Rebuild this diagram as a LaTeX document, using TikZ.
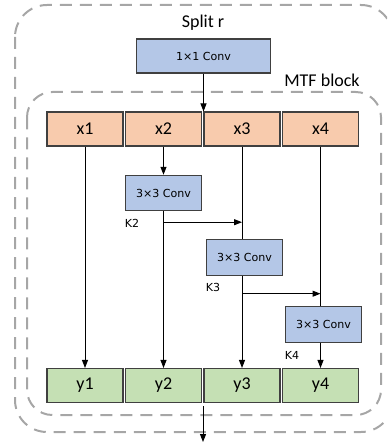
\documentclass[tikz,border=0pt]{standalone}
\usepackage{fontspec}
\setmainfont{Carlito}
\newfontfamily\convfont{DejaVu Sans}
\usetikzlibrary{arrows.meta,calc}

\definecolor{convblue}{HTML}{B4C7E7}
\definecolor{splitorange}{HTML}{F8CBAD}
\definecolor{outgreen}{HTML}{C5E0B4}
\definecolor{dashgray}{HTML}{A6A6A6}

\tikzset{
    cell/.style={draw=black!75, line width=0.8pt, minimum width=57pt, minimum height=25.5pt, inner sep=0pt, font=\fontsize{13.5}{15}\selectfont},
    convbox/.style={draw=black!75, line width=0.8pt, fill=convblue, minimum width=57.5pt, minimum height=26.5pt, inner sep=0pt, font=\convfont\fontsize{8.3}{10}\selectfont},
    klabel/.style={anchor=west, inner sep=0pt, font=\convfont\fontsize{8.3}{10}\selectfont},
    region/.style={draw=dashgray, line width=1.5pt, dash pattern=on 9pt off 6pt},
    arr/.style={-{Triangle[length=6pt,width=4.5pt]}, line width=0.75pt},
}

\begin{document}
\begin{tikzpicture}[x=0.75pt, y=-0.75pt]
    \useasboundingbox (0,0) rectangle (387,445);
    \clip (0,0) rectangle (387,445);

    % dashed regions
    \draw[region, rounded corners=24pt] (15,5) rectangle (393,432);
    \draw[region, rounded corners=19pt] (27,92) rectangle (381,415);
    \node[font=\fontsize{13.5}{15}\selectfont] (splitlab) at (203,23) {Split r};
    \node[font=\fontsize{13.5}{15}\selectfont] (mtflab) at (322,80) {MTF block};

    \node[convbox, minimum width=101pt, minimum height=25.5pt] (conv1) at (203.5,56) {1×1 Conv};

    % split parts
    \node[cell, fill=splitorange] (x1) at (85,129) {x1};
    \node[cell, fill=splitorange] (x2) at (163.5,129) {x2};
    \node[cell, fill=splitorange] (x3) at (242,129) {x3};
    \node[cell, fill=splitorange] (x4) at (320.5,129) {x4};

    \node[convbox] (conv2) at (163.5,193) {3×3 Conv};
    \node[convbox] (conv3) at (244.5,257.5) {3×3 Conv};
    \node[convbox] (conv4) at (323.5,324.5) {3×3 Conv};

    \node[klabel] (k2lab) at ($(conv2.south west)+(0,12)$) {K2};
    \node[klabel] (k3lab) at ($(conv3.south west)+(0,12)$) {K3};
    \node[klabel] (k4lab) at ($(conv4.south west)+(0,13)$) {K4};

    \node[cell, fill=outgreen] (y1) at (85,385.5) {y1};
    \node[cell, fill=outgreen] (y2) at (163.5,385.5) {y2};
    \node[cell, fill=outgreen] (y3) at (242,385.5) {y3};
    \node[cell, fill=outgreen] (y4) at (320.5,385.5) {y4};

    % connectors
    \draw[arr] (conv1.south) -- (conv1.south |- x2.north);
    \draw[arr] (x1.south) -- (y1.north);
    \draw[arr] (x2.south) -- (conv2.north);
    \draw[arr] (conv2.south) -- (conv2.south |- y2.north);
    \draw[line width=0.75pt] (x3.south) -- (x3.south |- conv3.north);
    \draw[arr] (x3.south |- conv3.south) -- (y3.north);
    \draw[line width=0.75pt] (x4.south) -- (x4.south |- conv4.north);
    \draw[arr] (x4.south |- conv4.south) -- (y4.north);
    \coordinate (k2) at ($(conv2.south)+(0,11)$);
    \coordinate (k3) at ($(x3.south |- conv3.south)+(0,18)$);
    \draw[arr] (k2) -- (k2 -| x3.south);
    \draw[arr] (k3) -- (k3 -| x4.south);
    \coordinate (out) at (203,442);
    \draw[arr] (out |- y2.south) ++(0,3) -- (out);
\end{tikzpicture}
\end{document}
